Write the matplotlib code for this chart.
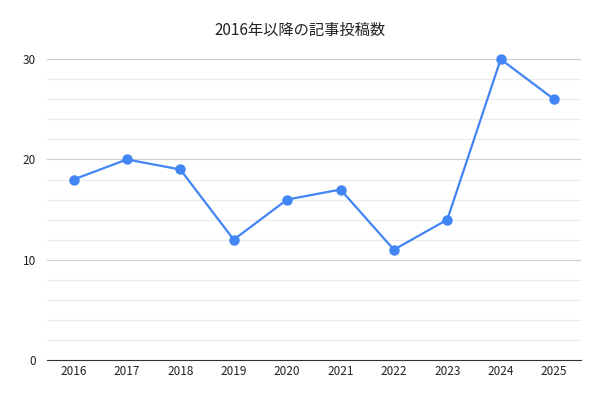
import matplotlib.pyplot as plt

plt.rcParams['font.family'] = ['Noto Sans CJK JP', 'DejaVu Sans']

years = ["2016", "2017", "2018", "2019", "2020", "2021", "2022", "2023", "2024", "2025"]
posts = [18, 20, 19, 12, 16, 17, 11, 14, 30, 26]

fig = plt.figure(figsize=(6, 4), dpi=100)
ax = fig.add_axes([0.078, 0.1, 0.89, 0.752])
x = list(range(len(years)))
ax.plot(x, posts, color="#4285f4", linewidth=1.6, marker="o", markersize=6.5, clip_on=False, zorder=3)

ax.set_xlim(-0.5, len(years) - 0.5)
ax.set_ylim(0, 30)
ax.set_xticks(x)
ax.set_xticklabels(years)
ax.set_yticks([0, 10, 20, 30])
ax.set_yticks(range(0, 31, 2), minor=True)
ax.grid(True, which="major", axis="y", color="#cccccc", linewidth=0.8)
ax.grid(True, which="minor", axis="y", color="#ececec", linewidth=0.8)
ax.tick_params(axis="both", which="both", length=0, labelsize=8.5, colors="#222222")
ax.tick_params(axis="y", pad=8)
for side in ["top", "right", "left"]:
    ax.spines[side].set_visible(False)
ax.spines["bottom"].set_color("#333333")
ax.set_axisbelow(True)

fig.suptitle("2016年以降の記事投稿数", y=0.945, fontsize=11, color="#222222")
fig.savefig("out.png")
